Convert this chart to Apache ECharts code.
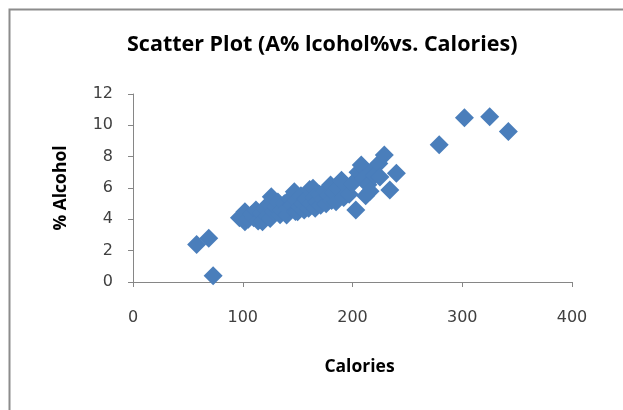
<!DOCTYPE html>
<html>
<head>
<meta charset="utf-8">
<script src="https://cdn.jsdelivr.net/npm/echarts@6/dist/echarts.min.js"></script>
<style>
html,body{margin:0;padding:0;background:#fff;}
#chart{width:623px;height:410px;}
</style>
</head>
<body>
<div id="chart"></div>
<script>
var titleText = 'Scatter Plot (A% lcohol%vs. Calories)';
var xAxisName = 'Calories';
var yAxisName = '% Alcohol';
var xTicks = [0, 100, 200, 300, 400];
var yTicks = [0, 2, 4, 6, 8, 10, 12];

var calories = [
  58, 69, 73,
  97, 100, 102, 102, 105, 108, 110, 112, 114, 117, 118, 120, 122, 124, 126, 125, 128,
  130, 132, 134, 136, 138, 140, 141, 143, 145, 147, 148, 149, 150, 152, 153, 155, 156, 158,
  160, 161, 162, 164, 165, 166, 168, 170, 171, 173, 175, 176, 178, 180, 181, 183, 185, 187,
  190, 192, 195, 197, 200, 203, 205, 208, 210, 212, 214, 216, 218, 220, 224, 225, 229, 234, 240,
  279, 302, 325, 342
];
var alcohol = [
  2.4, 2.8, 0.4,
  4.1, 4.17, 4.49, 3.85, 4.0, 4.3, 4.1, 4.6, 3.9, 4.4, 3.85, 4.7, 4.2, 5.0, 5.44, 4.06, 4.5,
  4.8, 5.1, 4.3, 4.6, 5.0, 4.28, 4.7, 5.3, 4.9, 5.76, 4.5, 5.2, 4.49, 4.8, 5.5, 5.0, 4.6, 5.3,
  4.7, 5.9, 5.0, 5.98, 5.4, 4.7, 5.1, 5.6, 4.9, 5.3, 5.8, 5.0, 5.5, 6.19, 5.2, 5.7, 5.12, 6.0,
  6.5, 5.4, 6.1, 5.6, 6.3, 4.6, 7.0, 7.47, 6.6, 5.5, 6.2, 5.8, 7.1, 6.8, 7.57, 6.7, 8.1, 5.87, 6.94,
  8.76, 10.49, 10.55, 9.6
];

var points = calories.map(function (c, i) { return [c, alcohol[i]]; });

var chart = echarts.init(document.getElementById('chart'), null, {renderer: 'canvas'});
var boldFam = '"Open Sans", Lato, sans-serif';
var tickFam = '"DejaVu Sans", sans-serif';
chart.setOption({
  animation: false,
  backgroundColor: '#ffffff',
  graphic: [{
    type: 'rect',
    shape: {x: 9.5, y: 9.5, width: 640, height: 420},
    style: {fill: 'none', stroke: '#8c8c8c', lineWidth: 2},
    silent: true
  }],
  title: {
    text: titleText,
    left: 122,
    top: 29,
    textStyle: {fontFamily: boldFam, fontWeight: 'bold', fontSize: 21.5, color: '#000'}
  },
  grid: {left: 133, top: 94, right: 51, bottom: 128},
  xAxis: {
    type: 'value',
    min: xTicks[0], max: xTicks[xTicks.length - 1], interval: 100,
    name: xAxisName,
    nameLocation: 'middle',
    nameGap: 76,
    nameTextStyle: {fontFamily: boldFam, fontWeight: 'bold', fontSize: 17.5, color: '#000', padding: [0, 0, 0, 14]},
    axisLine: {show: true, lineStyle: {color: '#868686', width: 1}},
    axisTick: {show: true, inside: false, length: 5, lineStyle: {color: '#868686'}},
    axisLabel: {margin: 28, fontFamily: tickFam, fontSize: 16, color: '#404040'},
    splitLine: {show: false}
  },
  yAxis: {
    type: 'value',
    min: yTicks[0], max: yTicks[yTicks.length - 1], interval: 2,
    name: yAxisName,
    nameLocation: 'middle',
    nameGap: 63,
    nameRotate: 90,
    nameTextStyle: {fontFamily: boldFam, fontWeight: 'bold', fontSize: 17.5, color: '#000'},
    axisLine: {show: true, lineStyle: {color: '#868686', width: 1}},
    axisTick: {show: true, inside: false, length: 5, lineStyle: {color: '#868686'}},
    axisLabel: {margin: 20, fontFamily: tickFam, fontSize: 16, color: '#404040'},
    splitLine: {show: false}
  },
  series: [{
    type: 'scatter',
    symbol: 'diamond',
    symbolSize: 19,
    itemStyle: {color: '#4a7ebb', opacity: 1},
    data: points
  }]
});
</script>
</body>
</html>
